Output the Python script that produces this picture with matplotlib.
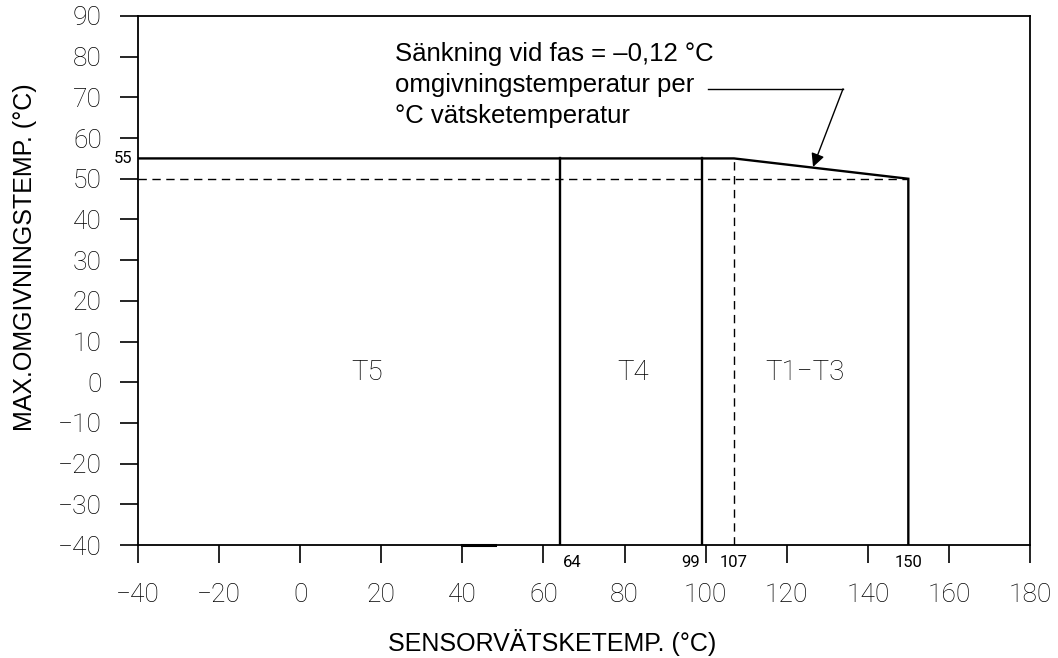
import matplotlib
matplotlib.use("Agg")
import matplotlib.pyplot as plt

# ==============================
# DATA
# ==============================
x_ticks = [-40, -20, 0, 20, 40, 60, 80, 100, 120, 140, 160, 180]
y_ticks = [-40, -30, -20, -10, 0, 10, 20, 30, 40, 50, 60, 70, 80, 90]

# max ambient limit curve (solid)
limit_x = [-40, 107, 150, 150]
limit_y = [55, 55, 50, -40]

# class boundaries (solid verticals)
boundary_x = [64, 99]
boundary_top = 55

# dashed reference lines
dash_h_y = 50
dash_h_x = [-40, 150]
dash_v_x = 107

# short heavier stretch on the base line
base_seg_x = [40, 48]

marked_x = [64, 99, 107, 150]
marked_y = 55

zones = ["T5", "T4", "T1\u2212T3"]
zone_x = [16.5, 82, 124.5]
zone_y = [2.5, 2.5, 2.5]

note = "Sänkning vid fas = \u20130,12 °C\nomgivningstemperatur per\n°C vätsketemperatur"
note_xy = (23.4, 73.0)
leader_x = [100.6, 133.9]
leader_y = 72.1
arrow_tip = (126.5, 52.9)

TICK_FONT = ["Roboto", "DejaVu Sans"]
TEXT_FONT = ["Liberation Sans", "DejaVu Sans"]
ink = "black"

# ==============================
# FIGURE
# ==============================
fig = plt.figure(figsize=(10.58, 6.58), dpi=100)
ax = fig.add_axes([0.1304, 0.1717, 0.9735 - 0.1304, 0.9757 - 0.1717])

ax.plot(limit_x, limit_y, color=ink, lw=1.7, solid_joinstyle="miter")
for bx in boundary_x:
    ax.plot([bx, bx], [-40, boundary_top], color=ink, lw=1.7)

ax.plot(dash_h_x, [dash_h_y, dash_h_y], color=ink, lw=1.0, ls=(0, (6, 4)))
ax.plot([dash_v_x, dash_v_x], [-40, 55], color=ink, lw=1.0, ls=(0, (6, 4)))
ax.plot(base_seg_x, [-40, -40], color=ink, lw=2.2, clip_on=False)

for zx, zy, name in zip(zone_x, zone_y, zones):
    ax.text(zx, zy, name, ha="center", va="center", fontsize=20,
            family=TICK_FONT, weight="light", color=ink)

# small value marks
ax.text(-41.5, marked_y, "55", ha="right", va="center", fontsize=12,
        family=TICK_FONT, color=ink, clip_on=False)
small_ha = {64: "left", 99: "right", 107: "center", 150: "center"}
small_dx = {64: 0.8, 99: -0.3, 107: 0, 150: 0}
for mx in marked_x:
    ax.annotate(str(mx), xy=(mx + small_dx[mx], -40), xytext=(0, -7),
                textcoords="offset points", ha=small_ha[mx], va="top",
                fontsize=12, family=TICK_FONT, color=ink, annotation_clip=False)

# note with leader line
ax.text(note_xy[0], note_xy[1], note, ha="left", va="center", fontsize=18.5,
        family=TEXT_FONT, color=ink, linespacing=1.37)
ax.plot(leader_x, [leader_y, leader_y], color=ink, lw=1.0)
ax.annotate("", xy=arrow_tip, xytext=(leader_x[1], leader_y),
            arrowprops=dict(arrowstyle="-|>", color=ink, lw=1.0,
                            mutation_scale=20, shrinkA=0, shrinkB=0))

# ==============================
# AXES
# ==============================
ax.set_xlim(-40, 180)
ax.set_ylim(-40, 90)
ax.set_xticks(x_ticks)
ax.set_yticks(y_ticks)
ax.tick_params(axis="both", direction="out", length=13, width=1.2, color=ink,
               labelsize=19, labelcolor=ink)
ax.tick_params(axis="x", pad=14)
ax.tick_params(axis="y", pad=13)
for lab in ax.get_xticklabels() + ax.get_yticklabels():
    lab.set_family(TICK_FONT)
    lab.set_weight("light")

for sp in ax.spines.values():
    sp.set_linewidth(1.3)
    sp.set_color(ink)

fig.text(552 / 1058, 1 - 642 / 658, "SENSORVÄTSKETEMP. (°C)", fontsize=18,
         family=TEXT_FONT, color=ink, ha="center", va="center")
fig.text(25 / 1058, 1 - 257 / 658, "MAX.OMGIVNINGSTEMP. (°C)", fontsize=18,
         family=TEXT_FONT, color=ink, ha="center", va="center", rotation=90)

fig.savefig("out.png", dpi=100)
